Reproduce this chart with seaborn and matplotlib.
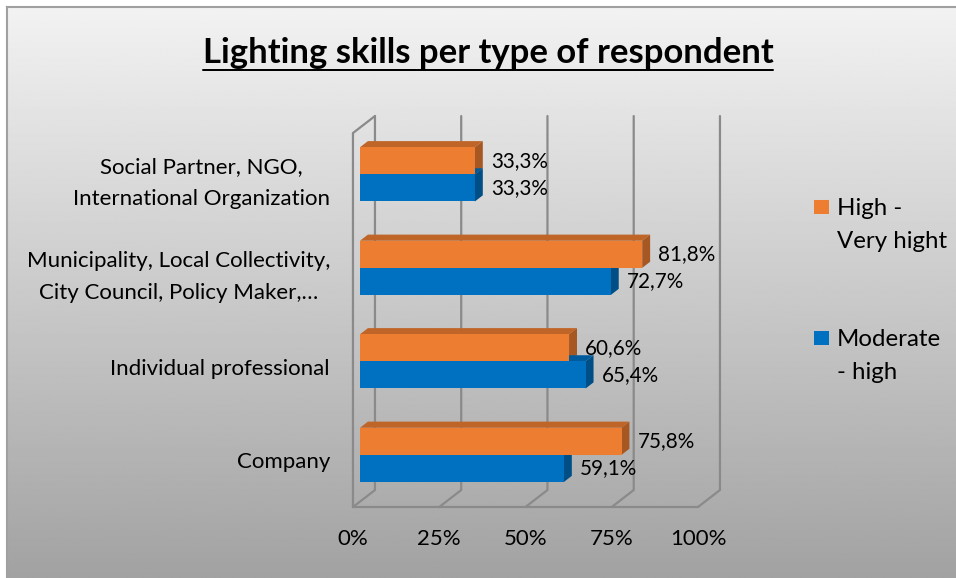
import numpy as np
import pandas as pd
import matplotlib
matplotlib.use("Agg")
import matplotlib.pyplot as plt
import matplotlib.transforms as mtransforms
from matplotlib.lines import Line2D
from matplotlib.patches import Polygon, Rectangle
import seaborn as sns

# ---------------------------------------------------------------- data
categories = [
    "Social Partner, NGO,\nInternational Organization",
    "Municipality, Local Collectivity,\nCity Council, Policy Maker,\u2026",
    "Individual professional",
    "Company",
]
series = ["High - Very hight", "Moderate - high"]
high_very_high = [0.333, 0.818, 0.606, 0.758]
moderate_high = [0.333, 0.727, 0.654, 0.591]
x_ticks = [0.0, 0.25, 0.5, 0.75, 1.0]
x_tick_labels = ["0%", "25%", "50%", "75%", "100%"]
legend_lines = [["High -", "Very hight"], ["Moderate", "- high"]]
title = "Lighting skills per type of respondent"

ORANGE = "#ED7D31"
BLUE = "#0070C0"
GRID = "#8a8a8a"
FONT = ["Lato", "DejaVu Sans"]

W, H, DPI = 956, 578, 100

sns.set_theme(style="white")
plt.rcParams["font.family"] = FONT

fig = plt.figure(figsize=(W / DPI, H / DPI), dpi=DPI)
fig.patch.set_facecolor("white")
renderer = fig.canvas.get_renderer()
ident = mtransforms.IdentityTransform()


def fit_size(text, target_px, **kw):
    t = fig.text(0, 0, text, fontsize=20, **kw)
    w = t.get_window_extent(renderer).width
    t.remove()
    return 20 * target_px / w


title_fs = fit_size(title, 570, weight="bold")
tick_fs = fit_size("Individual professional", 219)
label_fs = fit_size("33,3%", 57)
legend_fs = fit_size("Very hight", 110)

# ---------------------------------------------------------------- chart area background
bg = fig.add_axes([7 / W, 0, 1 - 7 / W, 1 - 7 / H], zorder=-5)
grad = np.linspace(242, 162, 256)[:, None] / 255.0
bg.imshow(np.repeat(grad, 4, axis=1), cmap="gray", vmin=0, vmax=1,
          aspect="auto", extent=[0, 1, 0, 1], interpolation="bilinear")
bg.set_xticks([])
bg.set_yticks([])
for side in ("right", "bottom"):
    bg.spines[side].set_visible(False)
for side in ("left", "top"):
    bg.spines[side].set_color("#a0a0a0")
    bg.spines[side].set_linewidth(1.5)

# ---------------------------------------------------------------- bars
ax = fig.add_axes([360 / W, 1 - 501.6 / H, 345 / W, 374 / H])
ax.patch.set_alpha(0)

df = pd.DataFrame({
    "category": categories * 2,
    "series": [series[0]] * len(categories) + [series[1]] * len(categories),
    "value": high_very_high + moderate_high,
})
sns.barplot(data=df, x="value", y="category", hue="series",
            order=categories, hue_order=series, palette=[ORANGE, BLUE],
            saturation=1, width=0.58, orient="h", errorbar=None,
            legend=False, ax=ax)

ax.set_xlim(0, 1)
ax.set_ylim(3.5, -0.5)
ax.set_xlabel("")
ax.set_ylabel("")
for s in ax.spines.values():
    s.set_visible(False)
ax.grid(False)

# depth of the box (pixels to the right and upwards from front to back)
DEPTH_DX, DEPTH_DY = 22, 17
BAR_FRONT, BAR_BACK = 0.32, 0.68


def disp(x, y, depth):
    px, py = ax.transData.transform((x, y))
    return (px + (depth - BAR_FRONT) * DEPTH_DX,
            py + (depth - BAR_FRONT) * DEPTH_DY)


def seg(*pts, **kw):
    xs = [p[0] for p in pts]
    ys = [p[1] for p in pts]
    ax.add_artist(Line2D(xs, ys, transform=ident, color=GRID, lw=1.6,
                         clip_on=False, zorder=0.5, **kw))


y_floor, y_top = 3.5, -0.5
for xv in x_ticks:
    seg(disp(xv, y_top, 1), disp(xv, y_floor, 1), disp(xv, y_floor, 0))
seg(disp(0, y_floor, 0), disp(1, y_floor, 0))
seg(disp(0, y_floor, 0), disp(0, y_top, 0), disp(0, y_top, 1))

# top and side faces of each bar
for patch in list(ax.patches):
    patch.set_zorder(2)
    patch.set_edgecolor("none")
    rgb = np.array(matplotlib.colors.to_rgb(patch.get_facecolor()))
    x0 = patch.get_x()
    x1 = x0 + patch.get_width()
    ya, yb = patch.get_y(), patch.get_y() + patch.get_height()
    ytop, ybot = min(ya, yb), max(ya, yb)
    top = [disp(x0, ytop, BAR_FRONT), disp(x1, ytop, BAR_FRONT),
           disp(x1, ytop, BAR_BACK), disp(x0, ytop, BAR_BACK)]
    side = [disp(x1, ytop, BAR_FRONT), disp(x1, ybot, BAR_FRONT),
            disp(x1, ybot, BAR_BACK), disp(x1, ytop, BAR_BACK)]
    ax.add_artist(Polygon(top, closed=True, transform=ident,
                          facecolor=rgb * 0.81, edgecolor="none",
                          clip_on=False, zorder=1.5))
    ax.add_artist(Polygon(side, closed=True, transform=ident,
                          facecolor=rgb * 0.70, edgecolor="none",
                          clip_on=False, zorder=1.5))

# value labels
for cont in ax.containers:
    labels = [f"{v * 100:.1f}".replace(".", ",") + "%" for v in cont.datavalues]
    ax.bar_label(cont, labels=labels, padding=16 * 72 / DPI,
                 fontsize=label_fs, color="black")

# ticks
ax.set_xticks(x_ticks, x_tick_labels)
ax.tick_params(axis="x", length=0, pad=20, labelsize=tick_fs, labelcolor="black")
ax.tick_params(axis="y", length=0, pad=30 * 72 / DPI, labelsize=tick_fs,
               labelcolor="black")
for lbl in ax.get_yticklabels():
    lbl.set_multialignment("center")
    lbl.set_linespacing(1.75)
    # labels sit on the front plane of the box; wrapped labels are centred on it
    shift = -1.0 if "\n" in lbl.get_text() else -5.4
    lbl.set_transform(lbl.get_transform() +
                      mtransforms.ScaledTranslation(0, shift / DPI, fig.dpi_scale_trans))
for lbl in ax.get_xticklabels():
    lbl.set_transform(lbl.get_transform() +
                      mtransforms.ScaledTranslation(-7 / DPI, 0, fig.dpi_scale_trans))

# ---------------------------------------------------------------- legend
legend_colors = [ORANGE, BLUE]
square_tops = [200, 331]
for color, lines, sq_top in zip(legend_colors, legend_lines, square_tops):
    fig.add_artist(Rectangle((814, H - sq_top - 14), 15, 14, transform=ident,
                             facecolor=color, edgecolor="none"))
    for i, line in enumerate(lines):
        fig.text(837, H - (sq_top + 15 + 33 * i), line, transform=ident,
                 fontsize=legend_fs, va="baseline", ha="left", color="black")

# ---------------------------------------------------------------- title
t = fig.text(488, H - 63, title, transform=ident, fontsize=title_fs,
             weight="bold", ha="center", va="baseline", color="black")
tb = t.get_window_extent(renderer)
fig.add_artist(Line2D([tb.x0, tb.x1], [H - 69.5, H - 69.5], transform=ident,
                      color="black", lw=2 * 72 / DPI))

fig.savefig("out.png", dpi=DPI)
